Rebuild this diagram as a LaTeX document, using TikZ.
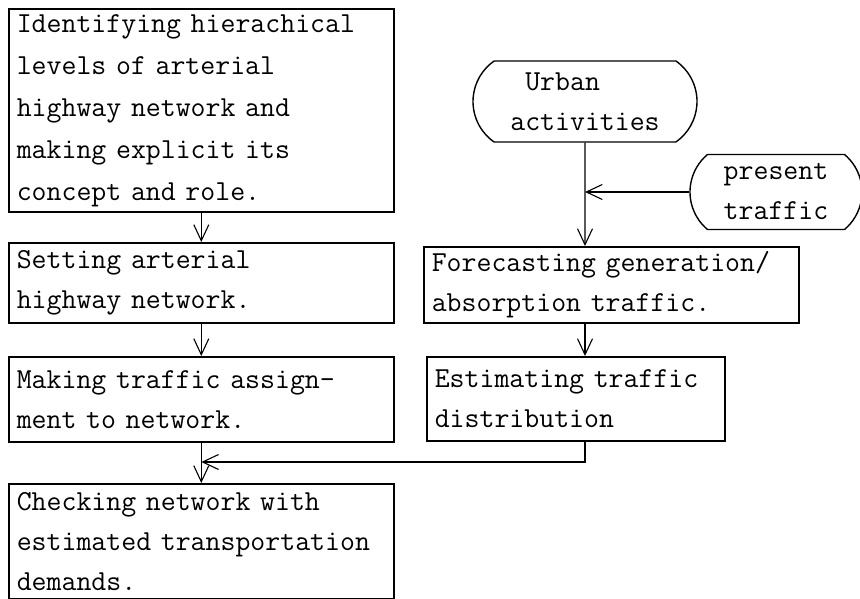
\documentclass[tikz,border=0pt]{standalone}
\usepackage{fontspec}
\usetikzlibrary{arrows.meta,shapes.misc}
\begin{document}
\begin{tikzpicture}[x=1pt,y=-1pt,font=\ttfamily\fontsize{29}{40}\selectfont]
\tikzstyle{stepbox}=[draw,line width=1.6pt,anchor=north west,align=left,inner xsep=8pt,inner ysep=3pt]
\tikzstyle{source}=[draw,line width=1.4pt,rounded rectangle,rounded rectangle arc length=110,align=left,inner sep=0pt]
\tikzstyle{flow}=[line width=1.1pt,-{Straight Barb[length=16pt,width=15pt,line width=1.1pt]}]
\useasboundingbox (0,0) rectangle (860,599);
\node (ident) [stepbox,font=\ttfamily\fontsize{29}{42}\selectfont,text width=369pt,minimum height=203pt] at (8,8) {Identifying hierachical\\levels of arterial\\highway network and\\making explicit its\\concept and role.};
\node (setting) [stepbox,text width=369pt,minimum height=80pt] at (8,242) {Setting arterial\\highway network.};
\node (making) [stepbox,text width=369pt,minimum height=85pt] at (8,356) {Making traffic assign-\\ment to network.};
\node (checking) [stepbox,text width=369pt,minimum height=115pt] at (8,483) {Checking network with\\estimated transportation\\demands.};
\node (forecast) [stepbox,text width=359pt,minimum height=76pt] at (423,246) {Forecasting generation/\\absorption traffic.};
\node (estim) [stepbox,text width=282pt,minimum height=84pt] at (426,356) {Estimating traffic\\distribution};
\node (urban) [source,minimum width=224pt,minimum height=81pt] at (585,101.5) {\hphantom{U}Urban\\activities};
\node (present) [source,align=center,rounded rectangle arc length=100,minimum width=172pt,minimum height=75pt] at (776,192) {present\\traffic};
\coordinate (merge) at (making.south |- 0,462);
\draw[flow] (ident) -- (setting);
\draw[flow] (setting) -- (making);
\draw[flow] (making) -- (checking);
\draw[flow] (urban) -- (urban |- forecast.north);
\draw[flow] (present) -- (present -| urban);
\draw[flow] (urban |- forecast.south) -- (urban |- estim.north);
\draw[flow] (urban |- estim.south) |- (merge);
\end{tikzpicture}
\end{document}
